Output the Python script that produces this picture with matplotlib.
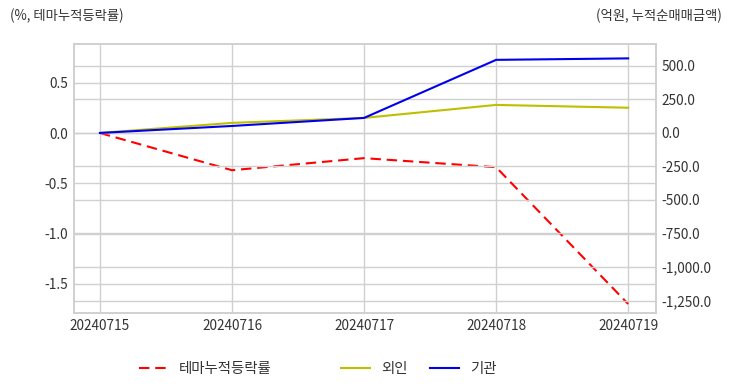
import matplotlib
matplotlib.use('Agg')
from matplotlib import pyplot as plt
from matplotlib.ticker import FuncFormatter, FixedLocator

dates = ["20240715", "20240716", "20240717", "20240718", "20240719"]
theme_rate = [0.0, -0.37, -0.25, -0.34, -1.70]
foreign = [0.0, 75.0, 112.0, 209.0, 188.0]
institution = [0.0, 52.0, 112.0, 545.0, 556.0]

plt.rcParams['font.family'] = ['Noto Sans CJK KR', 'DejaVu Sans']
plt.rcParams['axes.unicode_minus'] = False

grid_c = "#d0d0d0"
text_c = "#333333"

fig = plt.figure(figsize=(7.32, 3.92), dpi=100)
ax = fig.add_axes([0.101, 0.2015, 0.795, 0.6865])
ax2 = ax.twinx()

x = list(range(len(dates)))
l1, = ax.plot(x, theme_rate, color="red", linestyle=(0, (5, 2.8)), linewidth=1.5, label="테마누적등락률")
l2, = ax2.plot(x, foreign, color="#bfbf00", linewidth=1.5, label="외인")
l3, = ax2.plot(x, institution, color="#0000ee", linewidth=1.5, label="기관")

ax.set_xlim(-0.197, 4.21)
ax.set_ylim(-1.79, 0.886)
ax2.set_ylim(-1343, 664)
ax.set_xticks(x)
ax.set_xticklabels(dates)
ax.yaxis.set_major_locator(FixedLocator([-1.5, -1.0, -0.5, 0.0, 0.5]))
ax.yaxis.set_major_formatter(FuncFormatter(lambda v, p: "{:.1f}".format(v)))
ax2.yaxis.set_major_locator(FixedLocator([-1250, -1000, -750, -500, -250, 0, 250, 500]))
ax2.yaxis.set_major_formatter(FuncFormatter(lambda v, p: "{:,.1f}".format(v)))

for a in (ax, ax2):
    a.tick_params(length=0, labelsize=9.8, colors=text_c, pad=4)
    for s in a.spines.values():
        s.set_color(grid_c)
        s.set_linewidth(1.2)

ax.grid(True, color=grid_c, linewidth=1.0)
ax2.grid(True, axis="y", color=grid_c, linewidth=1.0)
ax.set_axisbelow(True)
ax2.set_axisbelow(True)

fig.text(10 / 732, 1 - 16 / 392, "(%, 테마누적등락률)", fontsize=9.6, color=text_c, va="center", ha="left")
fig.text(722 / 732, 1 - 16 / 392, "(억원, 누적순매매금액)", fontsize=9.6, color=text_c, va="center", ha="right")

leg1 = fig.legend(handles=[l1], loc="center left", bbox_to_anchor=(126 / 732, 1 - 369 / 392),
                  frameon=False, fontsize=10.4, handlelength=2.0, handletextpad=0.75)
for t in leg1.get_texts():
    t.set_color(text_c)
leg2 = fig.legend(handles=[l2, l3], loc="center left", bbox_to_anchor=(328 / 732, 1 - 369 / 392),
                  frameon=False, fontsize=10.4, ncol=2, handlelength=2.0, handletextpad=0.75,
                  columnspacing=1.6)
for t in leg2.get_texts():
    t.set_color(text_c)

fig.savefig("out.png", dpi=100)
